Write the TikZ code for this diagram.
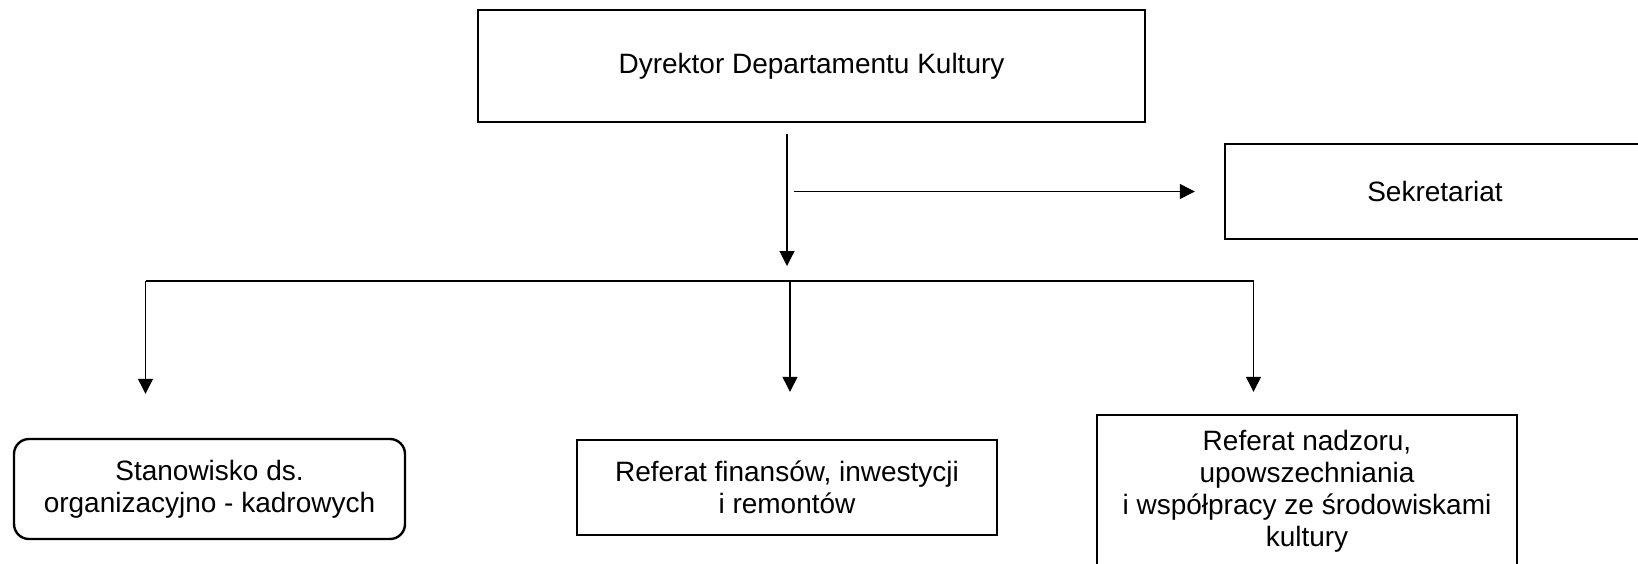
\documentclass[tikz,border=0pt]{standalone}
\usepackage{fontspec}
\setmainfont{Liberation Sans}
\usetikzlibrary{arrows.meta}
\begin{document}
\begin{tikzpicture}
	[x=0.5pt,y=-0.5pt,
	box/.style={draw,line width=1.2pt,align=center,inner sep=0pt,font=\fontsize{14}{16}\selectfont},
	conn/.style={line width=0.6pt},
	>={Triangle[length=7.5pt,width=7.5pt]}]
	\useasboundingbox (0,0) rectangle (1638,563);
	\clip (0,0) rectangle (1638,563);
	\node[box,name=dyr,minimum width=333.5pt,minimum height=55.75pt] at (811.5,66) {Dyrektor Departamentu Kultury};
	\node[box,name=sek,minimum width=210pt,minimum height=47.5pt] at (1435,191.5) {Sekretariat};
	\node[box,name=stan,rounded corners=7.5pt,minimum width=195.5pt,minimum height=50pt] at (209.5,489) {Stanowisko ds.\\organizacyjno - kadrowych};
	\node[box,name=fin,minimum width=210pt,minimum height=47.5pt] at (787,487.5) {Referat finansów, inwestycji\\i remontów};
	\node[box,name=nadz,minimum width=210pt,minimum height=76pt] at (1307,491) {Referat nadzoru,\\upowszechniania\\i współpracy ze środowiskami\\kultury};
	\coordinate (top) at (787,134);
	\coordinate (mid) at (787,266);
	\coordinate (side) at (794,191.5);
	\coordinate (busL) at (145.5,281);
	\coordinate (busM) at (790,281);
	\coordinate (busR) at (1253.5,281);
	\draw[conn,->](top)--(mid);
	\draw[conn,->,shorten >=14.5pt](side)--(sek.west);
	\draw[conn](busL)--(busR);
	\draw[conn,->,shorten >=22pt](busL)--(busL|-stan.north);
	\draw[conn,->,shorten >=23.5pt](busM)--(busM|-fin.north);
	\draw[conn,->,shorten >=11pt](busR)--(busR|-nadz.north);
\end{tikzpicture}
\end{document}
